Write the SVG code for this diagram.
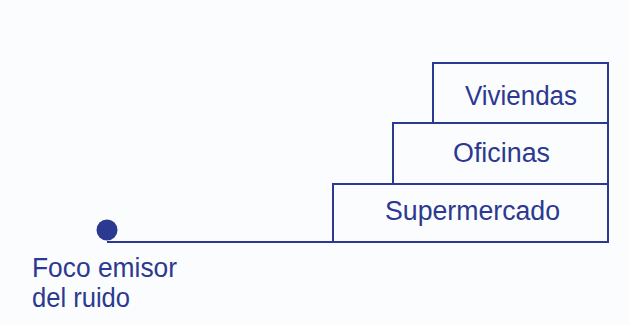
<svg xmlns="http://www.w3.org/2000/svg" width="630" height="325" viewBox="0 0 630 325">
<style>
.box{fill:none;stroke:#2b3990;stroke-width:2}
.lbl{font-family:"Liberation Sans",Arial,sans-serif;font-size:27px;fill:#2b3990}
</style>
<rect width="630" height="325" fill="#fbfcfd"/>
<g id="connectors">
<line x1="107" y1="242" x2="333" y2="242" stroke="#2b3990" stroke-width="2"/>
</g>
<g id="source">
<circle cx="107" cy="230" r="10.5" fill="#2b3990"/>
<text class="lbl" x="32" y="277" textLength="145" lengthAdjust="spacingAndGlyphs">Foco emisor</text>
<text class="lbl" x="32" y="307" textLength="98" lengthAdjust="spacingAndGlyphs">del ruido</text>
</g>
<g id="viviendas">
<rect class="box" x="433" y="63" width="175" height="60"/>
<text class="lbl" x="465" y="105" textLength="112" lengthAdjust="spacingAndGlyphs">Viviendas</text>
</g>
<g id="oficinas">
<rect class="box" x="393" y="123" width="215" height="61"/>
<text class="lbl" x="453" y="162" textLength="97" lengthAdjust="spacingAndGlyphs">Oficinas</text>
</g>
<g id="supermercado">
<rect class="box" x="333" y="184" width="275" height="58"/>
<text class="lbl" x="385" y="220" textLength="175" lengthAdjust="spacingAndGlyphs">Supermercado</text>
</g>
</svg>
